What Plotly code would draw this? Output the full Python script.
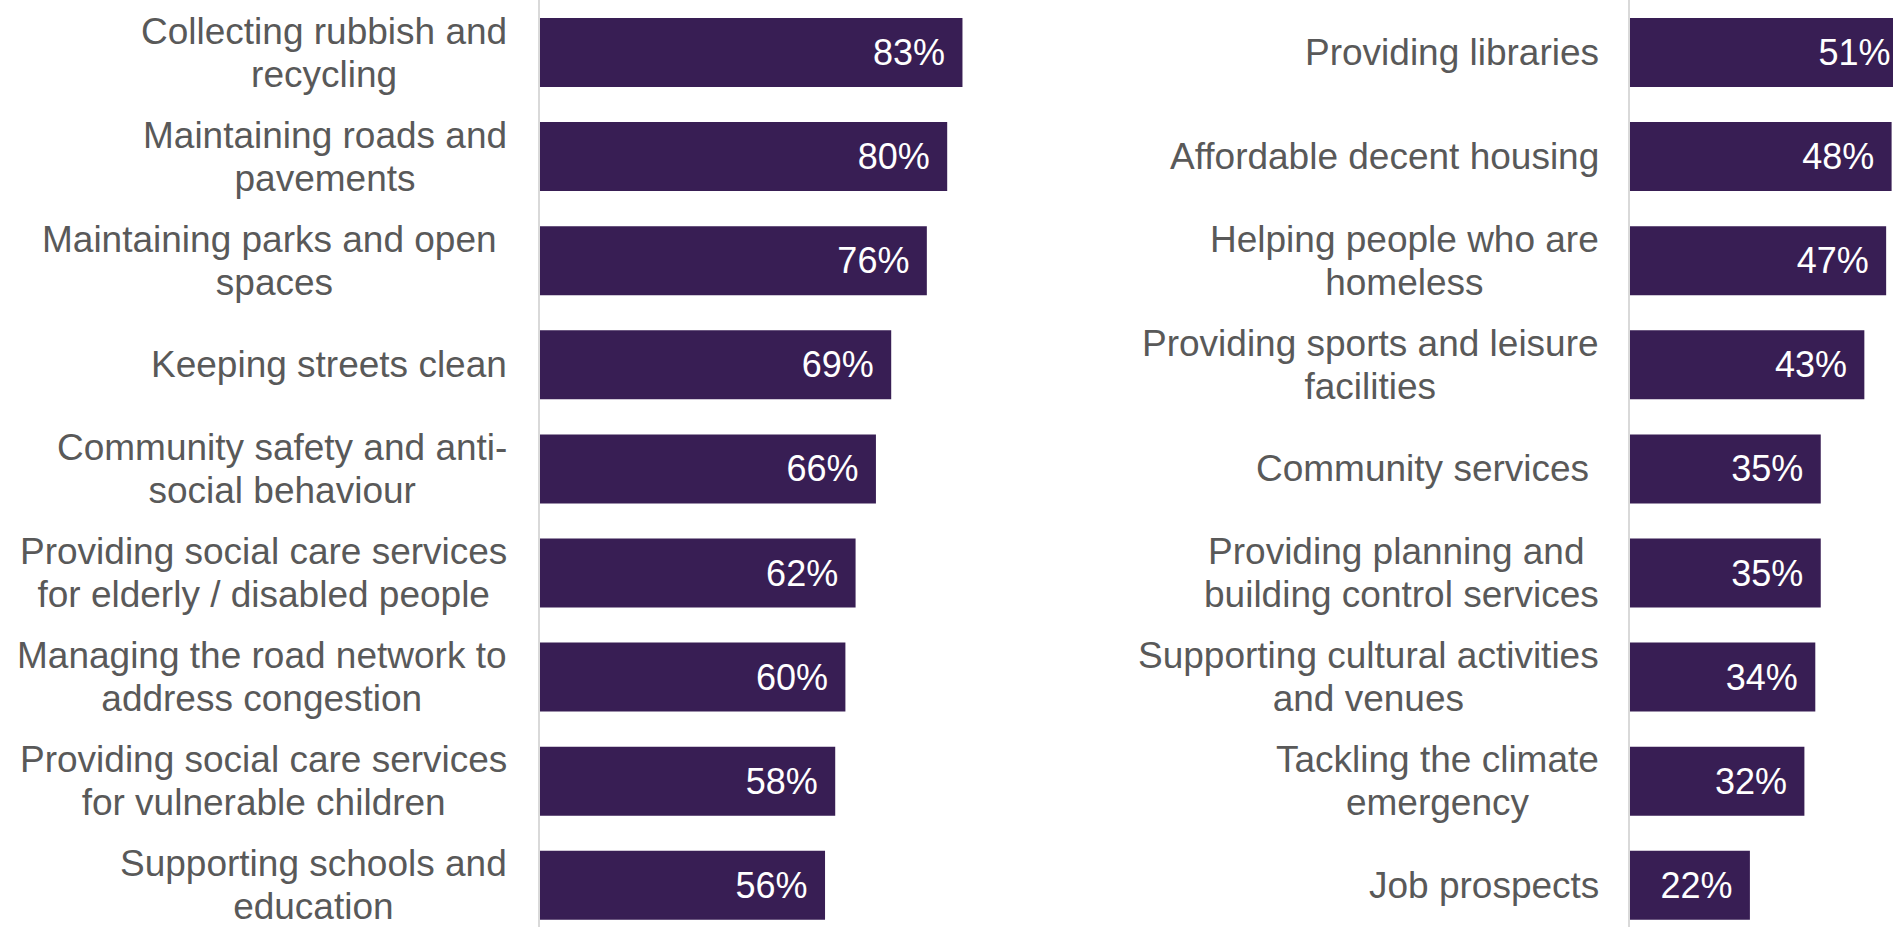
import plotly.graph_objects as go

# Share of residents rating each council service as important (%)
left_services = [
    "Collecting rubbish and<br>recycling",
    "Maintaining roads and<br>pavements",
    "Maintaining parks and open\u00a0<br>spaces",
    "Keeping streets clean",
    "Community safety and anti-<br>social behaviour",
    "Providing social care services<br>for elderly / disabled people",
    "Managing the road network to<br>address congestion",
    "Providing social care services<br>for vulnerable children",
    "Supporting schools and<br>education",
]
left_values = [83, 80, 76, 69, 66, 62, 60, 58, 56]

right_services = [
    "Providing libraries",
    "Affordable decent housing",
    "Helping people who are<br>homeless",
    "Providing sports and leisure<br>facilities",
    "Community services\u00a0",
    "Providing planning and\u00a0<br>building control services",
    "Supporting cultural activities<br>and venues",
    "Tackling the climate<br>emergency",
    "Job prospects",
]
right_values = [51, 48, 47, 43, 35, 35, 34, 32, 22]

BAR_COLOR = "#381E54"
LABEL_COLOR = "#595959"
AXIS_COLOR = "#D9D9D9"
FONT = "Liberation Sans, Arial, sans-serif"
LABEL_SIZE = 37
# plotly spaces wrapped lines 1.3em of the annotation font; a smaller base
# size gives the tighter line pitch while the spans keep the glyphs at 37px
LINE_BASE = 33.4

W, H = 1893, 927

fig = go.Figure()


def styled(label):
    return "<br>".join(
        f'<span style="font-size:{LABEL_SIZE}px">{part}</span>' for part in label.split("<br>")
    )


def add_panel(services, values, xname, yname, shift):
    fig.add_trace(go.Bar(
        x=values,
        y=list(range(len(services))),
        orientation="h",
        xaxis=xname,
        yaxis=yname,
        marker=dict(color=BAR_COLOR, line=dict(width=0)),
        text=[f"{v}%\u2009\u2009" for v in values],
        textposition="inside",
        insidetextanchor="end",
        textfont=dict(color="white", size=36, family=FONT),
        hoverinfo="skip",
        showlegend=False,
    ))
    for i, label in enumerate(services):
        fig.add_annotation(
            text=styled(label),
            x=0, xref=f"{xname} domain",
            y=i, yref=yname,
            xanchor="right", yanchor="middle",
            xshift=shift,
            align="center",
            showarrow=False,
            font=dict(size=LINE_BASE, color=LABEL_COLOR, family=FONT),
        )


add_panel(left_services, left_values, "x", "y", -31)
add_panel(right_services, right_values, "x2", "y2", -29)

pitch = 104.1
top = -52.5 / pitch
y_range = [top + H / pitch, top]

common_x = dict(showgrid=False, zeroline=False, showticklabels=False, ticks="", fixedrange=True)
common_y = dict(showgrid=False, zeroline=False, showticklabels=False, ticks="",
                range=y_range, showline=True, linecolor=AXIS_COLOR, linewidth=1.5,
                fixedrange=True)

fig.update_layout(
    width=W, height=H,
    margin=dict(l=0, r=0, t=0, b=0),
    paper_bgcolor="white",
    plot_bgcolor="white",
    bargap=1 - 69 / pitch,
    xaxis=dict(domain=[540 / W, (540 + 509) / W], range=[0, 100], anchor="y", **common_x),
    yaxis=dict(domain=[0, 1], anchor="x", **common_y),
    xaxis2=dict(domain=[1630 / W, 1], range=[0, (W - 1630) / 5.45], anchor="y2", **common_x),
    yaxis2=dict(domain=[0, 1], anchor="x2", **common_y),
)

fig.write_html("out.html", config={"displayModeBar": False})
